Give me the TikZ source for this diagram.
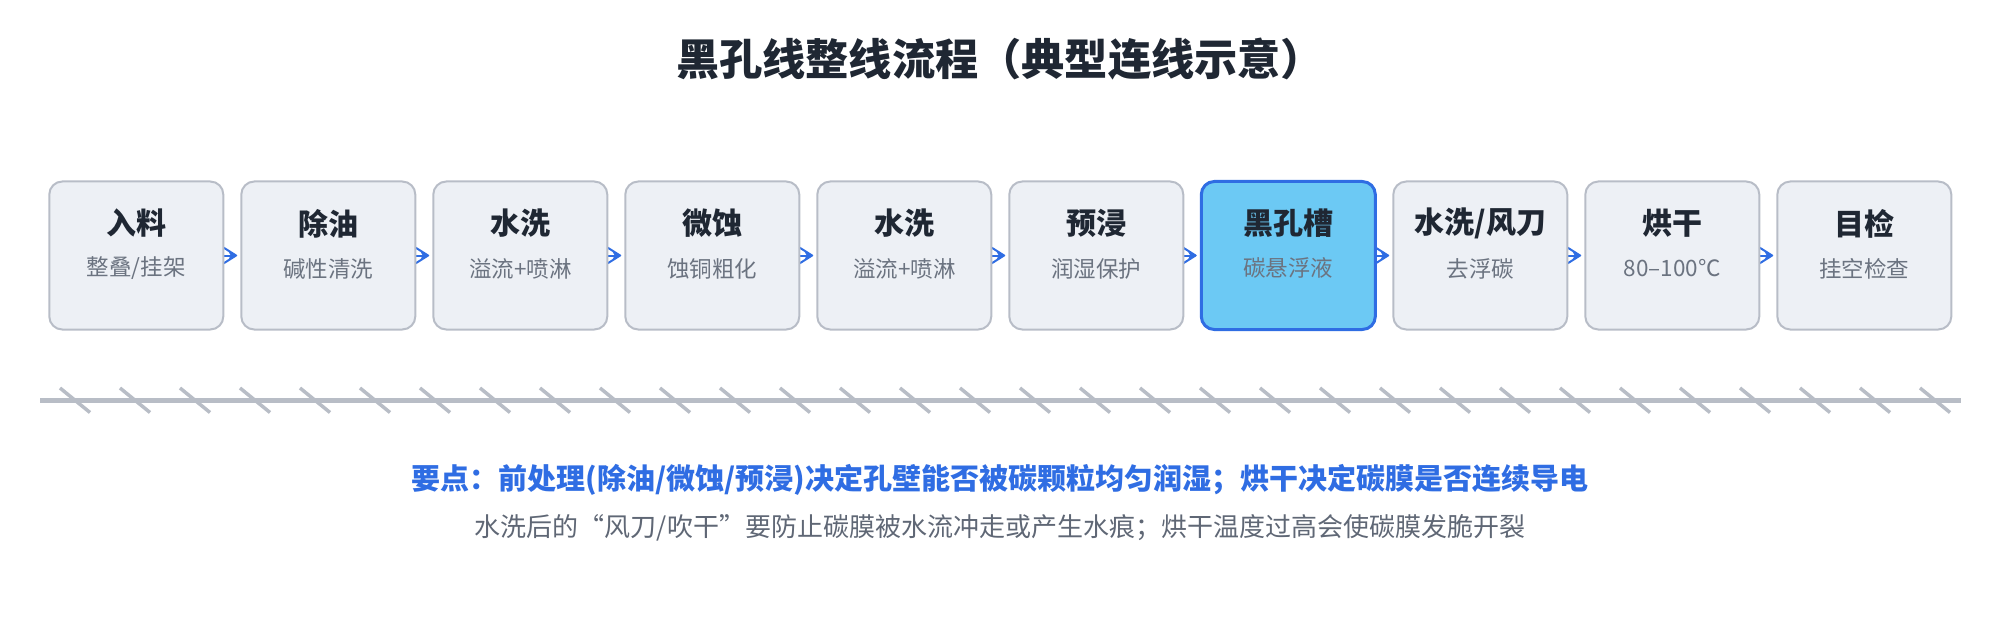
\documentclass[tikz,border=0pt]{standalone}
\usepackage{fontspec}
\setmainfont{Noto Sans CJK SC}
\usetikzlibrary{calc,arrows.meta}
\pgfdeclarelayer{background}
\pgfsetlayers{background,main}
\pgfdeclarearrow{
  name=Chev,
  setup code={
    \pgfarrowssettipend{0pt}
    \pgfarrowssetlineend{-3pt}
    \pgfarrowssetvisualbackend{-6.7pt}
    \pgfarrowssetbackend{-6.7pt}
    \pgfarrowsupperhullpoint{-6.7pt}{4.3pt}
    \pgfarrowsupperhullpoint{0pt}{0.5pt}
  },
  drawing code={
    \pgfsetdash{}{0pt}
    \pgfsetroundjoin
    \pgfsetbuttcap
    \pgfpathmoveto{\pgfqpoint{-6.7pt}{3.85pt}}
    \pgfpathlineto{\pgfqpoint{-0.6pt}{0pt}}
    \pgfpathlineto{\pgfqpoint{-6.7pt}{-3.85pt}}
    \pgfusepathqstroke
    \pgfpathmoveto{\pgfqpoint{0pt}{0pt}}
    \pgfpathlineto{\pgfqpoint{-4.3pt}{1.8pt}}
    \pgfpathlineto{\pgfqpoint{-3.3pt}{0pt}}
    \pgfpathlineto{\pgfqpoint{-4.3pt}{-1.8pt}}
    \pgfpathclose
    \pgfusepathqfill
  }
}
\definecolor{ink}{HTML}{1F2733}
\definecolor{subgray}{HTML}{6B7380}
\definecolor{boxfill}{HTML}{EDF0F5}
\definecolor{boxline}{HTML}{B8BDC7}
\definecolor{accent}{HTML}{2F6DE3}
\definecolor{hlfill}{HTML}{6CC9F4}
\definecolor{railgray}{HTML}{B8BDC6}
\definecolor{notegray}{HTML}{5F6775}
\begin{document}
\begin{tikzpicture}[x=0.5pt,y=-0.5pt,
  stepbox/.style={draw=boxline, line width=1pt, fill=boxfill, rounded corners=6.5pt,
    minimum width=87pt, minimum height=74pt, inner sep=0pt},
  hlbox/.style={stepbox, draw=accent, line width=1.5pt, fill=hlfill},
  btitle/.style={font=\bfseries\fontsize{15}{18}\selectfont, text=ink, inner sep=0pt},
  bsub/.style={font=\fontsize{11.25}{14}\selectfont, text=subgray, inner sep=0pt},
  flow/.style={draw=accent, fill=accent, line width=1pt, -{Chev}},
  railline/.style={draw=railgray, line width=2.5pt},
  railtick/.style={draw=railgray, line width=1.75pt},
]
\useasboundingbox (0,0) rectangle (2000,620);

\node[font=\bfseries\fontsize{21.6}{26}\selectfont, text=ink] (title) at (1000,59) {黑孔线整线流程（典型连线示意）};

% boxes
\node[stepbox] (b1)  at (136.3,255.5) {};
\node[stepbox] (b2)  at (328.3,255.5) {};
\node[stepbox] (b3)  at (520.3,255.5) {};
\node[stepbox] (b4)  at (712.3,255.5) {};
\node[stepbox] (b5)  at (904.3,255.5) {};
\node[stepbox] (b6)  at (1096.3,255.5) {};
\node[hlbox]   (b7)  at (1288.3,255.5) {};
\node[stepbox] (b8)  at (1480.3,255.5) {};
\node[stepbox] (b9)  at (1672.3,255.5) {};
\node[stepbox] (b10) at (1864.3,255.5) {};

\node[btitle] (t1)  at ($(b1.north)+(0,43)$)  {入料};
\node[bsub]   (s1)  at ($(b1.north)+(0,88)$)  {整叠/挂架};
\node[btitle] (t2)  at ($(b2.north)+(0,43)$)  {除油};
\node[bsub]   (s2)  at ($(b2.north)+(0,88)$)  {碱性清洗};
\node[btitle] (t3)  at ($(b3.north)+(0,43)$)  {水洗};
\node[bsub]   (s3)  at ($(b3.north)+(0,88)$)  {溢流+喷淋};
\node[btitle] (t4)  at ($(b4.north)+(0,43)$)  {微蚀};
\node[bsub]   (s4)  at ($(b4.north)+(0,88)$)  {蚀铜粗化};
\node[btitle] (t5)  at ($(b5.north)+(0,43)$)  {水洗};
\node[bsub]   (s5)  at ($(b5.north)+(0,88)$)  {溢流+喷淋};
\node[btitle] (t6)  at ($(b6.north)+(0,43)$)  {预浸};
\node[bsub]   (s6)  at ($(b6.north)+(0,88)$)  {润湿保护};
\node[btitle] (t7)  at ($(b7.north)+(0,43)$)  {黑孔槽};
\node[bsub]   (s7)  at ($(b7.north)+(0,88)$)  {碳悬浮液};
\node[btitle] (t8)  at ($(b8.north)+(0,43)$)  {水洗/风刀};
\node[bsub]   (s8)  at ($(b8.north)+(0,88)$)  {去浮碳};
\node[btitle] (t9)  at ($(b9.north)+(0,43)$)  {烘干};
\node[bsub]   (s9)  at ($(b9.north)+(0,88)$)  {80–100℃};
\node[btitle] (t10) at ($(b10.north)+(0,43)$) {目检};
\node[bsub]   (s10) at ($(b10.north)+(0,88)$) {挂空检查};

% connectors (behind the boxes, so they emerge from the box edge)
\begin{pgfonlayer}{background}
\draw[flow] (b1.center) -- ([xshift=-1.5pt]b2.west);
\draw[flow] (b2.center) -- ([xshift=-1.5pt]b3.west);
\draw[flow] (b3.center) -- ([xshift=-1.5pt]b4.west);
\draw[flow] (b4.center) -- ([xshift=-1.5pt]b5.west);
\draw[flow] (b5.center) -- ([xshift=-1.5pt]b6.west);
\draw[flow] (b6.center) -- ([xshift=-1.5pt]b7.west);
\draw[flow] (b7.center) -- ([xshift=-1.5pt]b8.west);
\draw[flow] (b8.center) -- ([xshift=-1.5pt]b9.west);
\draw[flow] (b9.center) -- ([xshift=-1.5pt]b10.west);
\end{pgfonlayer}

% rail
\coordinate (railL) at (40,400);
\coordinate (railR) at (1961,400);
\draw[railline] (railL) -- (railR);
\foreach \i in {0,...,31}{
  \draw[railtick] ({60+60*\i},388) -- ({90+60*\i},412.5);
}

% notes
\node[font=\bfseries\fontsize{14.5}{18}\selectfont, text=accent] (note1) at (1000,480)
  {要点：前处理(除油/微蚀/预浸)决定孔壁能否被碳颗粒均匀润湿；烘干决定碳膜是否连续导电};
\node[font=\fontsize{13}{16}\selectfont, text=notegray] (note2) at (1000,528)
  {水洗后的“风刀/吹干”要防止碳膜被水流冲走或产生水痕；烘干温度过高会使碳膜发脆开裂};
\end{tikzpicture}
\end{document}
